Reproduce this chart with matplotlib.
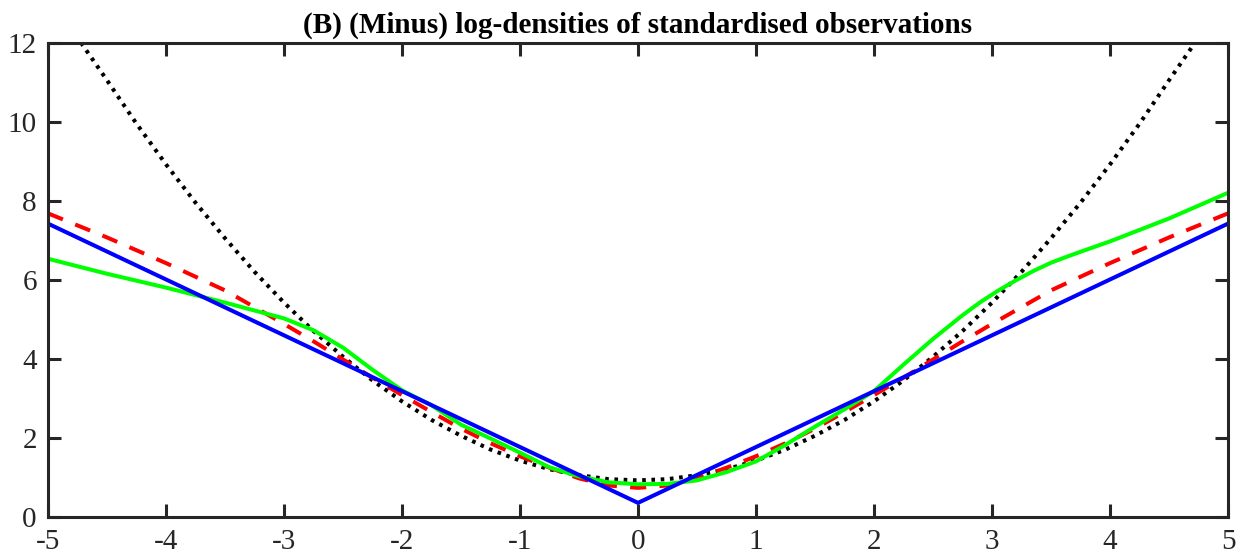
import numpy as np
import matplotlib
matplotlib.use('Agg')
import matplotlib.pyplot as plt

plt.rcParams['font.family'] = ['Liberation Serif', 'DejaVu Serif']
plt.rcParams['axes.unicode_minus'] = False

# normal (black dotted)
x_norm = [-4.72, -4.5, -4.25, -4.0, -3.75, -3.5, -3.25, -3.0, -2.75, -2.5, -2.25, -2.0,
          -1.75, -1.5, -1.25, -1.0, -0.75, -0.5, -0.25, 0.0, 0.25, 0.5, 0.75, 1.0,
          1.25, 1.5, 1.75, 2.0, 2.25, 2.5, 2.75, 3.0, 3.25, 3.5, 3.75, 4.0, 4.25, 4.5, 4.72]
y_norm = [12.0, 11.05, 9.95, 8.92, 7.95, 7.05, 6.2, 5.42, 4.7, 4.05, 3.45, 2.92,
          2.45, 2.05, 1.7, 1.42, 1.2, 1.05, 0.95, 0.92, 0.95, 1.05, 1.2, 1.42,
          1.7, 2.05, 2.45, 2.92, 3.45, 4.05, 4.7, 5.42, 6.2, 7.05, 7.95, 8.92, 9.95, 11.05, 12.0]

# student-t (red dashed)
x_t = [-5.0, -4.5, -4.0, -3.5, -3.0, -2.75, -2.5, -2.25, -2.0, -1.75, -1.5, -1.25, -1.0,
       -0.75, -0.5, -0.25, 0.0, 0.25, 0.5, 0.75, 1.0, 1.25, 1.5, 1.75, 2.0, 2.25,
       2.5, 2.75, 3.0, 3.5, 4.0, 4.5, 5.0]
y_t = [7.68, 7.07, 6.42, 5.73, 4.88, 4.44, 3.98, 3.52, 3.08, 2.65, 2.23, 1.86, 1.53,
       1.24, 0.97, 0.79, 0.73, 0.79, 0.97, 1.24, 1.53, 1.86, 2.23, 2.65, 3.08, 3.52,
       3.98, 4.44, 4.88, 5.73, 6.42, 7.07, 7.68]

# laplace (blue)
x_lap = [-5.0, 0.0, 5.0]
y_lap = [7.42, 0.35, 7.42]

# kernel estimate (green)
x_kern = [-5.0, -4.5, -4.0, -3.5, -3.0, -2.75, -2.5, -2.25, -2.0, -1.75, -1.5, -1.25, -1.0,
          -0.75, -0.5, -0.25, 0.0, 0.25, 0.5, 0.75, 1.0, 1.25, 1.5, 1.75, 2.0, 2.25,
          2.5, 2.75, 2.9, 3.05, 3.2, 3.35, 3.5, 3.65, 3.8, 4.0, 4.5, 5.0]
y_kern = [6.53, 6.15, 5.8, 5.42, 5.02, 4.72, 4.28, 3.72, 3.2, 2.82, 2.33, 1.98, 1.62,
          1.25, 1.02, 0.87, 0.82, 0.83, 0.92, 1.13, 1.4, 1.82, 2.28, 2.72, 3.18, 3.85,
          4.5, 5.1, 5.43, 5.72, 5.98, 6.22, 6.43, 6.6, 6.76, 6.97, 7.55, 8.2]

fig = plt.figure(figsize=(12.46, 5.59), dpi=100)
ax = fig.add_axes([0.0385, 0.0757, 0.9471, 0.8479])

lw = 2.9
ax.plot(x_norm, y_norm, color='black', lw=lw, linestyle=(0, (0.9, 1.4)), dash_capstyle='butt')
ax.plot(x_t, y_t, color='red', lw=lw, linestyle=(0, (4, 3.3)), dash_capstyle='butt')
ax.plot(x_kern, y_kern, color='#00ff00', lw=lw)
ax.plot(x_lap, y_lap, color='blue', lw=lw)

ax.set_xlim(-5, 5)
ax.set_ylim(0, 12)
ax.set_xticks(np.arange(-5, 6, 1))
ax.set_yticks(np.arange(0, 13, 2))

gray = '#262626'
for s in ax.spines.values():
    s.set_color(gray)
    s.set_linewidth(2.2)
ax.tick_params(direction='in', length=9.5, width=2.2, color=gray, labelcolor=gray,
               labelsize=21, top=True, right=True)
ax.tick_params(axis='x', pad=9)
ax.tick_params(axis='y', pad=8)

ax.set_title('(B) (Minus) log-densities of standardised observations',
             fontsize=21, fontweight='bold', pad=7)

fig.savefig('out.png', dpi=100)
